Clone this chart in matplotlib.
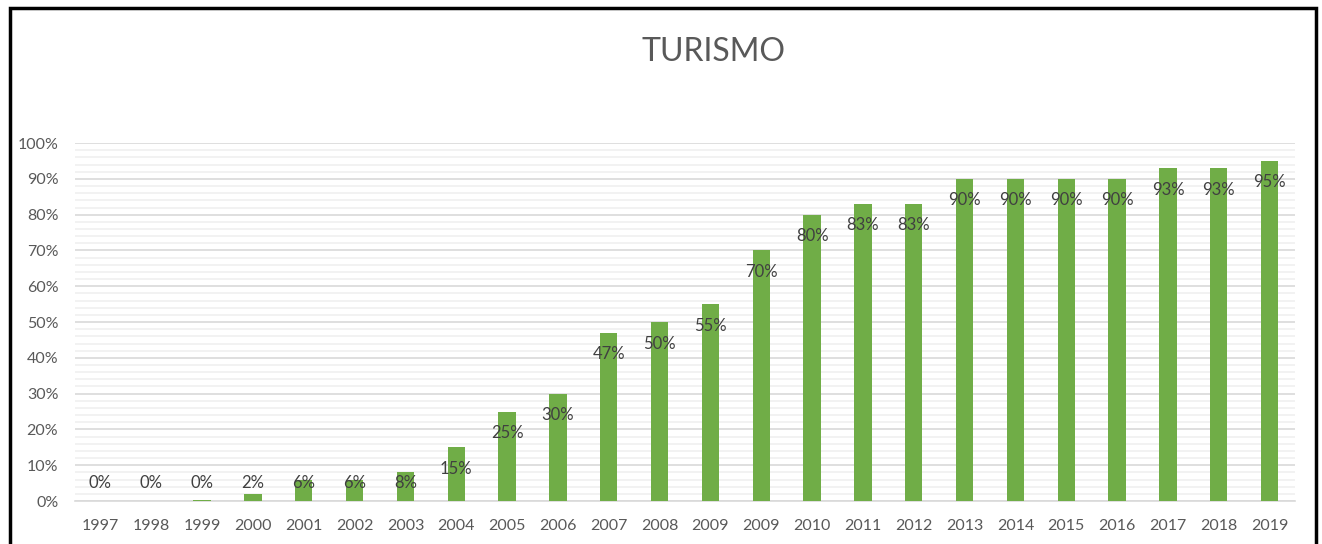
import matplotlib.pyplot as plt
from matplotlib.patches import Rectangle
from matplotlib.ticker import MultipleLocator, FuncFormatter

# Datos
anios = ['1997', '1998', '1999', '2000', '2001', '2002', '2003', '2004', '2005',
         '2006', '2007', '2008', '2009', '2009', '2010', '2011', '2012', '2013',
         '2014', '2015', '2016', '2017', '2018', '2019']
valores = [0, 0, 0.4, 2, 6, 6, 8, 15, 25, 30, 47, 50, 55, 70, 80, 83, 83,
           90, 90, 90, 90, 93, 93, 95]
etiquetas = ['0%', '0%', '0%', '2%', '6%', '6%', '8%', '15%', '25%', '30%', '47%',
             '50%', '55%', '70%', '80%', '83%', '83%', '90%', '90%', '90%', '90%',
             '93%', '93%', '95%']

plt.rcParams['font.family'] = ['Lato', 'DejaVu Sans']

fig = plt.figure(figsize=(13.22, 5.44), dpi=100)
ax = fig.add_axes([0.0567, 0.079, 0.9229, 0.658])

x = range(len(anios))
ax.bar(x, valores, width=0.34, color='#70AD47', zorder=3)

# Etiquetas de datos
for i, v in enumerate(valores):
    ax.text(i, max(v - 6, 5), etiquetas[i], ha='center', va='center',
            fontsize=12, color='#404040', zorder=4)

ax.set_xlim(-0.5, len(anios) - 0.5)
ax.set_ylim(0, 100)
ax.set_xticks(list(x))
ax.set_xticklabels(anios)
ax.yaxis.set_major_locator(MultipleLocator(10))
ax.yaxis.set_minor_locator(MultipleLocator(2))
ax.yaxis.set_major_formatter(FuncFormatter(lambda v, p: '%d%%' % v))
ax.grid(which='major', axis='y', color='#D9D9D9', linewidth=1.2, zorder=0)
ax.grid(which='minor', axis='y', color='#F0F0F0', linewidth=1.2, zorder=0)
ax.tick_params(axis='both', which='both', length=0, labelsize=11.5, colors='#595959')
ax.tick_params(axis='x', pad=13)
ax.tick_params(axis='y', pad=12)
for s in ['top', 'right', 'left']:
    ax.spines[s].set_visible(False)
ax.spines['bottom'].set_color('#D9D9D9')
ax.spines['bottom'].set_linewidth(1.2)

fig.text(0.54, 0.905, 'TURISMO', ha='center', va='center', fontsize=23,
         color='#595959')

# Marco
fig.patches.append(Rectangle((10 / 1322, -0.05), 1306 / 1322, 1.05 - 8 / 544,
                             transform=fig.transFigure, fill=False,
                             edgecolor='black', linewidth=2.5))

plt.savefig('out.png')
